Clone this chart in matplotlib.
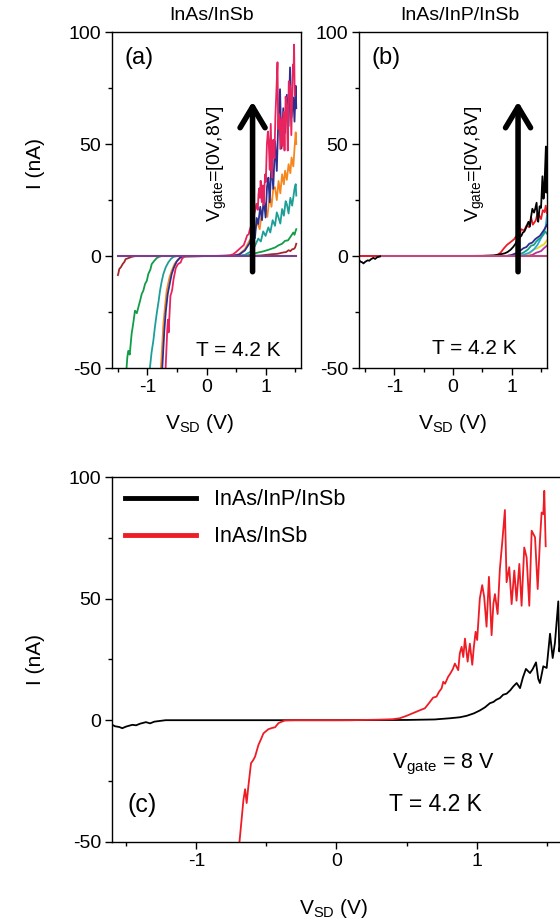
import matplotlib
matplotlib.use('Agg')
import matplotlib.pyplot as plt
from matplotlib.ticker import MultipleLocator

plt.rcParams['font.family'] = ['Liberation Sans', 'DejaVu Sans']
plt.rcParams['mathtext.fontset'] = 'custom'
plt.rcParams['mathtext.rm'] = 'Liberation Sans'
plt.rcParams['mathtext.it'] = 'Liberation Sans:italic'
plt.rcParams['mathtext.bf'] = 'Liberation Sans:bold'
plt.rcParams['axes.unicode_minus'] = False

# ---- InAs/InSb, Vgate = 8 V (panel a top curve and panel c red)
v_insb_8 = [-0.70, -0.693, -0.664, -0.652, -0.641, -0.629, -0.61, -0.595, -0.581, -0.557,
            -0.54, -0.521, -0.486, -0.46, -0.438, -0.414, -0.39, -0.367, -0.3, -0.2,
            -0.1, 0.0, 0.1, 0.2, 0.3, 0.4, 0.452, 0.5, 0.55, 0.6,
            0.631, 0.66, 0.69, 0.714, 0.73, 0.75, 0.762, 0.775, 0.797, 0.81,
            0.83, 0.845, 0.869, 0.88, 0.893, 0.905, 0.917, 0.936, 0.952, 0.969,
            0.98, 0.993, 1.004, 1.023, 1.04, 1.054, 1.071, 1.088, 1.107, 1.12,
            1.131, 1.15, 1.166, 1.183, 1.202, 1.214, 1.233, 1.25, 1.269, 1.285,
            1.305, 1.321, 1.34, 1.357, 1.376, 1.393, 1.417, 1.436, 1.452, 1.464,
            1.476, 1.483, 1.493]
i_insb_8 = [-55, -50.6, -32.8, -28.4, -34.1, -27.3, -17.7, -16.5, -15, -10.2,
            -8.0, -5.4, -3.7, -3.2, -2.9, -1.2, -0.6, -0.1, 0, 0,
            0, 0, 0, 0.1, 0.2, 0.4, 0.8, 1.8, 3.0, 4.2,
            4.9, 7.0, 9.3, 9.7, 11.5, 13.1, 15.8, 15.0, 17.9, 19.0,
            21.0, 23.3, 20.6, 27.5, 30.2, 26.0, 33.6, 24.1, 31.5, 22.8,
            30.0, 36.4, 33.0, 50.1, 55.6, 50.8, 38.5, 59.0, 35.0, 48.0,
            51.9, 43.7, 62.2, 73.2, 86.5, 56.8, 63.0, 47.8, 61.6, 49.2,
            64.3, 47.1, 71.1, 67.0, 47.1, 78.0, 75.3, 54.0, 73.9, 85.5,
            84.8, 94.4, 71.6]

# ---- InAs/InP/InSb, Vgate = 8 V (panel b top curve and panel c black)
v_inp_8 = [-1.60, -1.58, -1.55, -1.529, -1.50, -1.457, -1.43, -1.40, -1.386, -1.36,
           -1.33, -1.30, -1.26, -1.219, -1.0, -0.5, 0.0, 0.5, 0.7, 0.81,
           0.88, 0.929, 0.98, 1.023, 1.06, 1.095, 1.12, 1.14, 1.166, 1.19,
           1.214, 1.24, 1.262, 1.286, 1.31, 1.33, 1.352, 1.381, 1.40, 1.424,
           1.44, 1.452, 1.476, 1.50, 1.524, 1.543, 1.559, 1.583, 1.59, 1.60]
i_inp_8 = [-1.9, -2.5, -2.8, -3.3, -2.6, -1.9, -2.1, -1.4, -1.2, -0.8,
           -1.3, -0.6, -0.3, 0, 0, 0, 0, 0.1, 0.3, 0.8,
           1.2, 1.8, 2.8, 4.0, 5.3, 7.0, 7.5, 8.4, 9.1, 10.5,
           10.9, 12.3, 13.9, 15.3, 13.2, 17.5, 21.1, 19.4, 21.0, 23.8,
           17.0, 15.3, 22.2, 21.5, 35.6, 25.6, 31.8, 48.9, 28.3, 33.0]

# ---- InAs/InSb, lower gate voltages (panel a)
v_a_wine = [-1.50, -1.494, -1.477, -1.45, -1.42, -1.39, -1.37, -1.33, -1.29, -1.26,
            -1.2, -0.5, 0.0, 0.5, 0.9, 1.1, 1.2, 1.3, 1.35, 1.39,
            1.42, 1.45, 1.48, 1.5, 1.52]
i_a_wine = [-8.5, -8.0, -5.8, -5.0, -3.6, -2.6, -1.4, -1.0, -0.6, -0.3,
            0, 0, 0, 0, 0.2, 0.8, 1.0, 1.6, 1.8, 2.6,
            2.2, 3.0, 3.2, 3.8, 5.5]

v_a_green = [-1.36, -1.353, -1.34, -1.324, -1.30, -1.268, -1.24, -1.211, -1.18, -1.154,
             -1.12, -1.098, -1.07, -1.041, -1.01, -0.985, -0.95, -0.928, -0.88, -0.843,
             -0.8, -0.758, -0.5, 0.0, 0.5, 0.7, 0.876, 0.95, 1.05, 1.16,
             1.22, 1.28, 1.33, 1.38, 1.42, 1.47, 1.49, 1.51, 1.52]
i_a_green = [-55, -49.7, -45, -42.3, -44, -34.8, -30, -24.4, -25.5, -22.9,
             -19.5, -17, -15.5, -12.5, -11, -8, -6, -3.6, -2.0, -0.9,
             -0.3, 0, 0, 0, 0, 0.3, 1.6, 2.0, 2.8, 3.8,
             4.8, 5.5, 6.8, 7.0, 8.5, 10.5, 9.5, 11.3, 12.0]

v_a_teal = [-0.97, -0.957, -0.93, -0.9, -0.87, -0.844, -0.81, -0.787, -0.76, -0.73,
            -0.69, -0.646, -0.6, -0.561, -0.5, 0.0, 0.5, 0.65, 0.75, 0.82,
            0.876, 0.92, 0.96, 1.0, 1.047, 1.08, 1.12, 1.16, 1.19, 1.22,
            1.25, 1.28, 1.31, 1.34, 1.36, 1.39, 1.42, 1.45, 1.47, 1.49,
            1.51, 1.52]
i_a_teal = [-55, -49.7, -43, -37.8, -31, -25.9, -20, -15.5, -11.5, -8,
            -5, -2.8, -1.2, -0.4, 0, 0, 0, 0.5, 2.0, 4.5,
            7.8, 6.5, 11.0, 9.0, 12.8, 10.5, 16.0, 13.5, 19.5, 17.2,
            14.5, 21.0, 18.0, 24.5, 23.2, 19.0, 26.0, 22.5, 26.2, 30.0,
            32.1, 27.0]

v_a_orange = [-0.78, -0.771, -0.75, -0.73, -0.70, -0.674, -0.63, -0.589, -0.54, -0.476,
              -0.42, 0.0, 0.4, 0.55, 0.65, 0.72, 0.78, 0.82, 0.86, 0.9,
              0.94, 0.99, 1.03, 1.07, 1.1, 1.13, 1.16, 1.19, 1.22, 1.25,
              1.28, 1.31, 1.33, 1.36, 1.39, 1.42, 1.44, 1.47, 1.49, 1.51,
              1.52]
i_a_orange = [-55, -49.7, -40, -30.4, -22, -15.5, -10, -6.5, -3.5, -1.3,
              -0.3, 0, 0, 0.8, 3.0, 6.5, 9.0, 11.3, 15.0, 12.0,
              20.0, 23.2, 17.5, 27.0, 22.0, 30.0, 30.7, 25.0, 33.5, 28.0,
              36.5, 32.0, 38.1, 34.0, 41.0, 37.0, 44.0, 40.0, 48.0, 55.2,
              50.0]

v_a_navy = [-0.76, -0.748, -0.73, -0.714, -0.69, -0.657, -0.62, -0.589, -0.55, -0.504,
            -0.45, -0.4, 0.0, 0.4, 0.55, 0.65, 0.735, 0.78, 0.82, 0.85,
            0.876, 0.91, 0.94, 0.97, 1.0, 1.025, 1.047, 1.07, 1.1, 1.13,
            1.16, 1.19, 1.215, 1.245, 1.27, 1.3, 1.33, 1.36, 1.39, 1.414,
            1.44, 1.47, 1.49, 1.51, 1.52]
i_a_navy = [-55, -49.7, -41, -33.3, -25, -17, -12, -8, -5, -2.4,
            -0.8, -0.2, 0, 0, 0.6, 2.5, 6.0, 10.0, 8.0, 17.0,
            14.3, 22.0, 16.0, 26.0, 17.2, 31.0, 35.0, 24.0, 42.0, 30.0,
            51.3, 38.0, 60.0, 74.5, 48.0, 66.0, 55.0, 72.0, 58.0, 84.2,
            62.0, 70.8, 60.0, 76.0, 66.0]

v_a_flat = [-1.5, 1.52]
i_a_flat = [0, 0]

# ---- InAs/InP/InSb, lower gate voltages (panel b)
v_b_red = [-1.6, 0.0, 0.6, 0.7, 0.75, 0.81, 0.868, 0.92, 0.97, 1.04,
           1.08, 1.12, 1.16, 1.212, 1.25, 1.3, 1.33, 1.36, 1.41, 1.44,
           1.47, 1.5, 1.53, 1.56, 1.58, 1.6]
i_b_red = [0, 0, 0, 0.1, 0.4, 1.5, 3.5, 5.0, 6.0, 7.5,
           9.0, 8.0, 12.0, 11.4, 13.5, 12.9, 17.4, 14.0, 15.9, 19.0,
           18.1, 16.5, 20.5, 19.6, 22.5, 19.0]
v_b_navy = [-1.6, 0.0, 0.9, 1.0, 1.1, 1.2, 1.25, 1.3, 1.35, 1.4, 1.44, 1.48, 1.52, 1.56, 1.6]
i_b_navy = [0, 0, 0, 0.5, 1.5, 3.5, 4.0, 5.5, 6.0, 7.5, 8.3, 9.0, 10.5, 12.0, 14.0]
v_b_teal = [-1.6, 0.0, 1.0, 1.1, 1.2, 1.28, 1.33, 1.38, 1.42, 1.46, 1.5, 1.54, 1.57, 1.6]
i_b_teal = [0, 0, 0, 0.5, 1.5, 3.0, 4.6, 5.0, 6.5, 7.5, 8.3, 9.5, 11.0, 10.0]
v_b_cyan = [-1.6, 0.0, 1.1, 1.2, 1.3, 1.38, 1.44, 1.5, 1.55, 1.58, 1.6]
i_b_cyan = [0, 0, 0, 0.5, 1.5, 3.0, 5.0, 8.0, 11.0, 13.4, 18.0]
v_b_yellow = [-1.6, 0.0, 1.15, 1.25, 1.32, 1.38, 1.44, 1.5, 1.55, 1.6]
i_b_yellow = [0, 0, 0, 0.5, 1.5, 3.0, 3.5, 4.5, 5.2, 7.0]
v_b_magenta = [-1.6, 0.0, 1.25, 1.35, 1.42, 1.5, 1.55, 1.6]
i_b_magenta = [0, 0, 0, 0.5, 1.5, 2.2, 3.5, 4.6]
v_b_flat = [-1.22, 1.6]
i_b_flat = [0, 0]

TICK_FS = 14
LABEL_FS = 15
SUB = r'\mathrm{{{}}}'


def style_axes(ax):
    ax.set_xlim(-1.6, 1.6)
    ax.set_ylim(-50, 100)
    ax.xaxis.set_major_locator(MultipleLocator(1))
    ax.xaxis.set_minor_locator(MultipleLocator(0.5))
    ax.yaxis.set_major_locator(MultipleLocator(50))
    ax.yaxis.set_minor_locator(MultipleLocator(25))
    ax.tick_params(which='both', direction='out', width=1, labelsize=TICK_FS, pad=3)
    ax.tick_params(which='major', length=5)
    ax.tick_params(which='minor', length=3)
    for s in ax.spines.values():
        s.set_linewidth(1)


def gate_arrow(ax, x):
    ax.annotate('', xy=(x, 69), xytext=(x, -7),
                arrowprops=dict(arrowstyle='->,head_length=0.75,head_width=0.45',
                                lw=4, color='black', shrinkA=0, shrinkB=0,
                                mutation_scale=20))


fig = plt.figure(figsize=(5.6, 9.24), dpi=100)
ax_a = fig.add_axes([0.200, 0.6017, 0.3375, 0.3636])
ax_b = fig.add_axes([0.6416, 0.6017, 0.3350, 0.3636])
ax_c = fig.add_axes([0.2005, 0.0891, 0.8007, 0.3944])

# panel (a): InAs/InSb
lw = 1.3
ax_a.plot(v_a_wine, i_a_wine, color='#a3282b', lw=lw)
ax_a.plot(v_a_green, i_a_green, color='#119c48', lw=lw)
ax_a.plot(v_a_teal, i_a_teal, color='#1d9f98', lw=lw)
ax_a.plot(v_a_orange, i_a_orange, color='#f6871f', lw=lw)
ax_a.plot(v_a_navy, i_a_navy, color='#2d2f90', lw=lw)
ax_a.plot(v_insb_8, i_insb_8, color='#e8245e', lw=lw)
ax_a.plot(v_a_flat, i_a_flat, color='#7b3d8f', lw=1.5)
style_axes(ax_a)
gate_arrow(ax_a, 0.78)
ax_a.text(0.19, 41, r'V$_{\mathrm{gate}}$=[0V,8V]', rotation=90, fontsize=14,
          ha='center', va='center')
ax_a.text(-1.39, 88.5, '(a)', fontsize=17, va='center')
ax_a.text(-0.17, -42, 'T = 4.2 K', fontsize=15, va='center')
ax_a.text(0.527, 1.05, 'InAs/InSb', fontsize=14, ha='center', va='center',
          transform=ax_a.transAxes)
ax_a.set_ylabel('I (nA)', fontsize=LABEL_FS)
ax_a.yaxis.set_label_coords(-0.355, 0.61)
ax_a.set_xlabel(r'V$_{\mathrm{SD}}$ (V)', fontsize=LABEL_FS)
ax_a.xaxis.set_label_coords(0.466, -0.13)

# panel (b): InAs/InP/InSb
ax_b.plot(v_b_magenta, i_b_magenta, color='#b5339b', lw=lw)
ax_b.plot(v_b_yellow, i_b_yellow, color='#e8d81c', lw=lw)
ax_b.plot(v_b_cyan, i_b_cyan, color='#2aa9df', lw=lw)
ax_b.plot(v_b_teal, i_b_teal, color='#16a085', lw=lw)
ax_b.plot(v_b_navy, i_b_navy, color='#2d2f90', lw=lw)
ax_b.plot(v_b_red, i_b_red, color='#ee1c25', lw=lw)
ax_b.plot(v_inp_8, i_inp_8, color='black', lw=lw)
ax_b.plot(v_b_flat, i_b_flat, color='#c0487c', lw=1.5)
style_axes(ax_b)
gate_arrow(ax_b, 1.108)
ax_b.text(0.38, 41, r'V$_{\mathrm{gate}}$=[0V,8V]', rotation=90, fontsize=14,
          ha='center', va='center')
ax_b.text(-1.39, 88.5, '(b)', fontsize=17, va='center')
ax_b.text(-0.36, -41.5, 'T = 4.2 K', fontsize=15, va='center')
ax_b.text(0.536, 1.05, 'InAs/InP/InSb', fontsize=14, ha='center', va='center',
          transform=ax_b.transAxes)
ax_b.set_xlabel(r'V$_{\mathrm{SD}}$ (V)', fontsize=LABEL_FS)
ax_b.xaxis.set_label_coords(0.497, -0.13)

# panel (c): both heterostructures at Vgate = 8 V
ax_c.plot(v_inp_8, i_inp_8, color='black', lw=lw, label='InAs/InP/InSb')
ax_c.plot(v_insb_8, i_insb_8, color='#ee1c25', lw=lw, label='InAs/InSb')
style_axes(ax_c)
leg = ax_c.legend(loc='upper left', bbox_to_anchor=(0.028, 0.967), frameon=False,
                  fontsize=15.5, handlelength=3.3, handletextpad=0.85,
                  labelspacing=0.75, borderaxespad=0, borderpad=0)
for line in leg.get_lines():
    line.set_linewidth(3.5)
ax_c.text(0.395, -18.4, r'V$_{\mathrm{gate}}$ = 8 V', fontsize=15.5, va='center')
ax_c.text(0.374, -34.7, 'T = 4.2 K', fontsize=16.5, va='center')
ax_c.text(-1.49, -34.7, '(c)', fontsize=18, va='center')
ax_c.set_ylabel('I (nA)', fontsize=LABEL_FS)
ax_c.yaxis.set_label_coords(-0.150, 0.5)
ax_c.set_xlabel(r'V$_{\mathrm{SD}}$ (V)', fontsize=LABEL_FS)
ax_c.xaxis.set_label_coords(0.494, -0.153)

plt.savefig('out.png', dpi=100)
plt.close(fig)
